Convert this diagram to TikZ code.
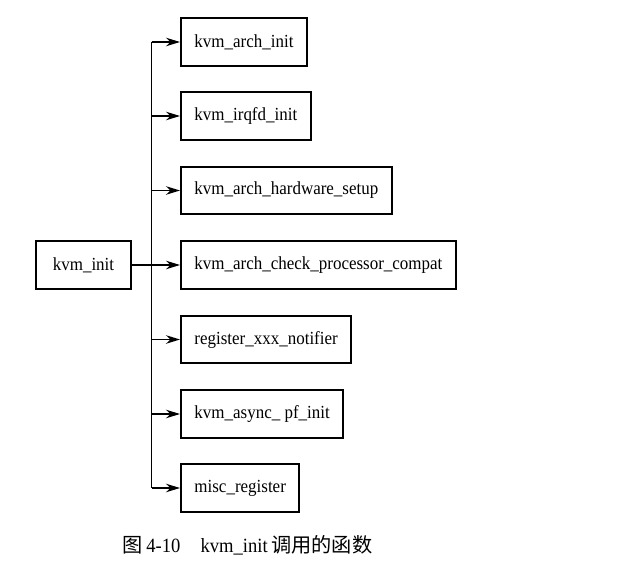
\documentclass[tikz,border=0pt]{standalone}
\usepackage{fontspec}
\setmainfont[FakeStretch=0.92]{Liberation Serif}
\newfontfamily\cjk{Noto Sans CJK SC}
\usetikzlibrary{arrows.meta}
\tikzset{fn/.style={draw, line width=1.1pt, minimum height=0.95cm, inner xsep=0.27cm, anchor=west, font=\fontsize{10.5}{12}\selectfont}}

\begin{document}
\begin{tikzpicture}[>={Stealth[length=2.8mm,width=1.7mm]}]
\useasboundingbox (0,0) rectangle (12.82,-11.3);
\node [fn, anchor=center, minimum width=1.9cm] (init) at (1.67,-5.3) {kvm\_init};
\node [fn] (arch) at (3.6,-0.84) {kvm\_arch\_init};
\node [fn] (irqfd) at (3.6,-2.32) {kvm\_irqfd\_init};
\node [fn] (hw) at (3.6,-3.81) {kvm\_arch\_hardware\_setup};
\node [fn] (check) at (3.6,-5.3) {kvm\_arch\_check\_processor\_compat};
\node [fn] (notif) at (3.6,-6.79) {register\_xxx\_notifier};
\node [fn] (async) at (3.6,-8.28) {kvm\_async\_ pf\_init};
\node [fn] (misc) at (3.6,-9.76) {misc\_register};
\coordinate (top) at (3.03,-0.84);
\coordinate (bot) at (3.03,-9.76);
\draw [thick] (top)--(bot);
\draw [thick, ->] (top)--(arch.west);
\draw [thick, ->] (irqfd.west -| top)--(irqfd.west);
\draw [thick, ->] (hw.west -| top)--(hw.west);
\draw [thick, ->] (init.east)--(init.east -| check.west);
\draw [thick, ->] (notif.west -| top)--(notif.west);
\draw [thick, ->] (async.west -| top)--(async.west);
\draw [thick, ->] (bot)--(misc.west);
\node [font=\fontsize{11.5}{13}\selectfont] (cap) at (4.95,-10.9) {{\cjk 图}\,4-10\quad kvm\_init\,{\cjk 调用的函数}};
\end{tikzpicture}
\end{document}
